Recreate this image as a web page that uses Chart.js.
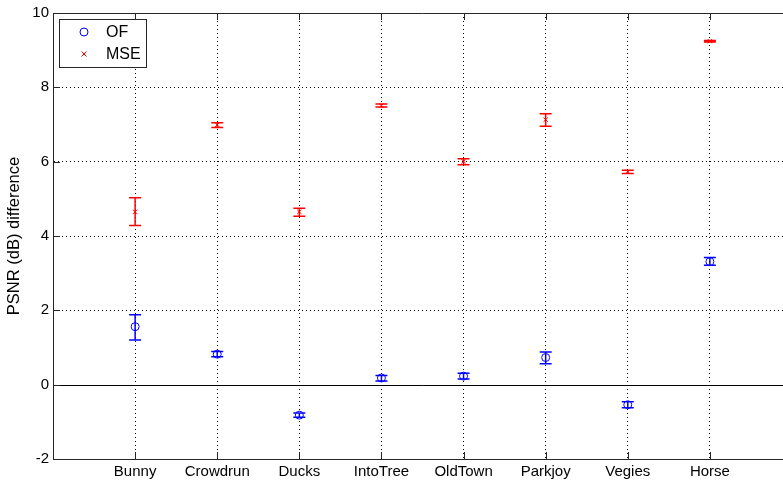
<!DOCTYPE html>
<html lang="en">
  <head>
    <meta charset="UTF-8" />
    <script src="https://cdn.jsdelivr.net/npm/chart.js"></script>
    <title>PSNR difference</title>
    <style>
      html, body {
        margin: 0;
        padding: 0;
        overflow: hidden;
        background: #fff;
      }
      #chart-wrapper {
        width: 800px;
        height: 482px;
      }
    </style>
  </head>
  <body>
    <div id="chart-wrapper">
      <canvas id="chart"></canvas>
    </div>
    <script>
      // setup area
      const categories = ['Bunny', 'Crowdrun', 'Ducks', 'IntoTree', 'OldTown', 'Parkjoy', 'Vegies', 'Horse'];
      const ofMean = [1.56, 0.82, -0.82, 0.18, 0.23, 0.73, -0.54, 3.31];
      const ofLow = [1.20, 0.75, -0.88, 0.10, 0.15, 0.56, -0.62, 3.21];
      const ofHigh = [1.88, 0.89, -0.76, 0.25, 0.31, 0.88, -0.46, 3.42];
      const mseMean = [4.65, 6.99, 4.65, 7.51, 6.01, 7.13, 5.73, 9.24];
      const mseLow = [4.28, 6.92, 4.53, 7.47, 5.92, 6.95, 5.68, 9.22];
      const mseHigh = [5.03, 7.05, 4.75, 7.55, 6.08, 7.29, 5.77, 9.26];
      const yTicks = [-2, 0, 2, 4, 6, 8, 10];

      const font = "Arial, 'Liberation Sans', Helvetica, sans-serif";
      const blue = '#0000ff';
      const red = '#ff0000';

      const toPoints = (values) => values.map((v, i) => ({ x: i + 1, y: v }));

      // error bars, inner tick marks, zero line and boxed legend
      const matlabLook = {
        id: 'matlabLook',
        beforeDatasetsDraw(chart) {
          const { ctx, scales: { x, y }, chartArea } = chart;
          ctx.save();
          // zero line
          const y0 = Math.round(y.getPixelForValue(0)) + 0.5;
          ctx.strokeStyle = '#000';
          ctx.lineWidth = 1;
          ctx.beginPath();
          ctx.moveTo(chartArea.left, y0);
          ctx.lineTo(chartArea.right, y0);
          ctx.stroke();

          const bars = [
            { low: ofLow, high: ofHigh, color: blue },
            { low: mseLow, high: mseHigh, color: red },
          ];
          bars.forEach((b) => {
            ctx.strokeStyle = b.color;
            ctx.lineWidth = 1.5;
            b.low.forEach((lo, i) => {
              const px = x.getPixelForValue(i + 1);
              const pl = y.getPixelForValue(lo);
              const ph = y.getPixelForValue(b.high[i]);
              ctx.beginPath();
              ctx.moveTo(px, pl);
              ctx.lineTo(px, ph);
              ctx.moveTo(px - 6, pl);
              ctx.lineTo(px + 6, pl);
              ctx.moveTo(px - 6, ph);
              ctx.lineTo(px + 6, ph);
              ctx.stroke();
            });
          });
          ctx.restore();
        },
        afterDraw(chart) {
          const { ctx, scales: { x, y }, chartArea } = chart;
          const { left, right, top, bottom } = chartArea;
          ctx.save();
          ctx.strokeStyle = '#262626';
          ctx.lineWidth = 1;
          ctx.beginPath();
          // top and right borders
          ctx.moveTo(left, Math.round(top) + 0.5);
          ctx.lineTo(right, Math.round(top) + 0.5);
          ctx.moveTo(Math.round(right) - 0.5, top);
          ctx.lineTo(Math.round(right) - 0.5, bottom);
          // x tick marks (inside)
          categories.forEach((c, i) => {
            const px = Math.round(x.getPixelForValue(i + 1)) + 0.5;
            ctx.moveTo(px, bottom);
            ctx.lineTo(px, bottom - 7);
            ctx.moveTo(px, top);
            ctx.lineTo(px, top + 7);
          });
          // y tick marks (inside)
          yTicks.forEach((t) => {
            const py = Math.round(y.getPixelForValue(t)) + 0.5;
            ctx.moveTo(left, py);
            ctx.lineTo(left + 7, py);
            ctx.moveTo(right, py);
            ctx.lineTo(right - 7, py);
          });
          ctx.stroke();

          // legend
          const lx = left + 6, ly = top + 6, lw = 87, lh = 48;
          ctx.fillStyle = '#fff';
          ctx.fillRect(lx, ly, lw, lh);
          ctx.strokeStyle = '#262626';
          ctx.strokeRect(Math.round(lx) + 0.5, Math.round(ly) + 0.5, lw, lh);

          ctx.font = '16px ' + font;
          ctx.fillStyle = '#000';
          ctx.textBaseline = 'middle';
          chart.data.datasets.forEach((ds, i) => {
            const cy = ly + 13 + i * 22;
            const cx = lx + 25;
            ctx.strokeStyle = ds.borderColor;
            ctx.lineWidth = 1;
            ctx.beginPath();
            if (i === 0) {
              ctx.arc(cx, cy, 4, 0, Math.PI * 2);
            } else {
              ctx.moveTo(cx - 2.5, cy - 2.5);
              ctx.lineTo(cx + 2.5, cy + 2.5);
              ctx.moveTo(cx + 2.5, cy - 2.5);
              ctx.lineTo(cx - 2.5, cy + 2.5);
            }
            ctx.stroke();
            ctx.fillText(ds.label, lx + 47, cy + 1);
          });
          ctx.restore();
        },
      };

      // Render area
      const chart = new Chart(document.getElementById('chart'), {
        type: 'scatter',
        data: {
          datasets: [
            {
              label: 'OF',
              data: toPoints(ofMean),
              pointStyle: 'circle',
              pointRadius: 4,
              pointHoverRadius: 4,
              borderColor: blue,
              backgroundColor: 'rgba(0,0,0,0)',
              borderWidth: 1,
            },
            {
              label: 'MSE',
              data: toPoints(mseMean),
              pointStyle: 'crossRot',
              pointRadius: 3,
              pointHoverRadius: 3,
              borderColor: red,
              backgroundColor: red,
              borderWidth: 1,
            },
          ],
        },
        options: {
          responsive: true,
          maintainAspectRatio: false,
          animation: false,
          events: [],
          layout: {
            padding: { top: 12, right: 8, left: 0, bottom: 0 },
          },
          plugins: {
            legend: { display: false },
            tooltip: { enabled: false },
          },
          scales: {
            x: {
              type: 'linear',
              min: 0,
              max: 9,
              afterFit: (scale) => { scale.height = 23; },
              afterBuildTicks: (scale) => {
                scale.ticks = [0, ...categories.map((c, i) => i + 1), 9].map((v) => ({ value: v }));
              },
              grid: {
                drawTicks: false,
                lineWidth: 1,
                color: (c) => (c.tick && c.tick.value >= 1 && c.tick.value <= categories.length ? '#000' : 'rgba(0,0,0,0)'),
              },
              border: { display: true, color: '#262626', width: 1, dash: [1, 3] },
              ticks: {
                autoSkip: false,
                maxRotation: 0,
                padding: 4,
                color: '#000',
                font: { family: font, size: 15 },
                callback: (v) => categories[v - 1] || '',
              },
            },
            y: {
              min: -2,
              max: 10,
              afterFit: (scale) => { scale.width = 53; },
              afterBuildTicks: (scale) => {
                scale.ticks = yTicks.map((v) => ({ value: v }));
              },
              grid: {
                drawTicks: false,
                lineWidth: 1,
                color: (c) => (c.tick && c.tick.value > -2 && c.tick.value < 10 && c.tick.value !== 0 ? '#000' : 'rgba(0,0,0,0)'),
              },
              border: { display: true, color: '#262626', width: 1, dash: [1, 3] },
              title: {
                display: true,
                text: 'PSNR (dB) difference',
                color: '#000',
                font: { family: font, size: 16.5 },
                padding: { top: 5, bottom: 0 },
              },
              ticks: {
                padding: 4,
                color: '#000',
                font: { family: font, size: 15 },
              },
            },
          },
        },
        plugins: [matlabLook],
      });
    </script>
  </body>
</html>
